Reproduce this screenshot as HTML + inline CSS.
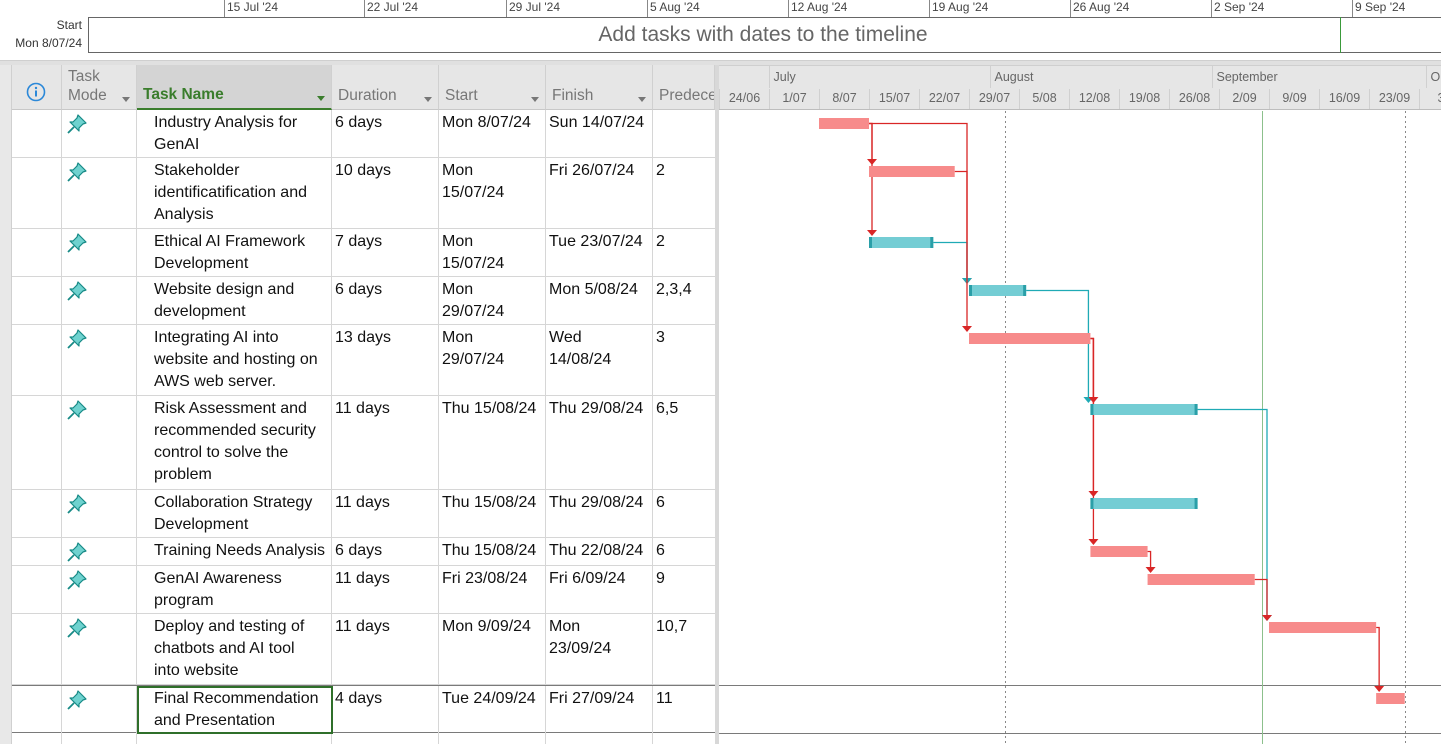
<!DOCTYPE html>
<html><head><meta charset="utf-8">
<style>
*{box-sizing:border-box;margin:0;padding:0}
body{width:1441px;height:744px;overflow:hidden;background:#fff;font-family:"Liberation Sans",sans-serif;position:relative}
.abs{position:absolute}
.tl{font-size:12px;color:#444;top:0}
.tick{position:absolute;top:0;width:1px;height:17px;background:#888}
.hdr{position:absolute;top:65px;height:45px;background:#E6E6E6;border-right:1px solid #D0D0D0;border-bottom:1px solid #C8C8C8;color:#777;font-size:14.5px}
.hdr span{position:absolute;left:6px;bottom:4px}
.dd{position:absolute;right:6px;bottom:7px;width:0;height:0;border-left:4px solid transparent;border-right:4px solid transparent;border-top:5px solid #777}
.row{position:absolute;left:12px;width:703px;border-bottom:1px solid #D6D6D6}
.c{position:absolute;top:0;bottom:0;border-right:1px solid #D6D6D6;font-size:16px;line-height:22px;color:#111;padding-top:2px;white-space:nowrap;overflow:hidden}
.c1{left:0;width:50px}.c2{left:50px;width:75px}.c3{left:125px;width:195px;padding-left:17px}
.c4{left:320px;width:107px;padding-left:3px}.c5{left:427px;width:107px;padding-left:3px}
.c6{left:534px;width:107px;padding-left:3px}.c7{left:641px;width:62px;padding-left:3px;border-right:none}
.pin{position:absolute;left:4px;top:3px}
</style></head><body>
<div class="abs" style="left:0;top:0;width:1441px;height:60px">
  <div class="tick" style="left:224px"></div><div class="abs tl" style="left:227px">15 Jul '24</div>
  <div class="tick" style="left:364px"></div><div class="abs tl" style="left:367px">22 Jul '24</div>
  <div class="tick" style="left:506px"></div><div class="abs tl" style="left:509px">29 Jul '24</div>
  <div class="tick" style="left:647px"></div><div class="abs tl" style="left:650px">5 Aug '24</div>
  <div class="tick" style="left:788px"></div><div class="abs tl" style="left:791px">12 Aug '24</div>
  <div class="tick" style="left:929px"></div><div class="abs tl" style="left:932px">19 Aug '24</div>
  <div class="tick" style="left:1070px"></div><div class="abs tl" style="left:1073px">26 Aug '24</div>
  <div class="tick" style="left:1211px"></div><div class="abs tl" style="left:1214px">2 Sep '24</div>
  <div class="tick" style="left:1352px"></div><div class="abs tl" style="left:1355px">9 Sep '24</div>
  <div class="abs" style="right:1359px;top:16px;font-size:12px;color:#333;text-align:right;line-height:18px">Start<br>Mon 8/07/24</div>
  <div class="abs" style="left:88px;top:17px;width:1360px;height:36px;border:1px solid #666;font-size:21px;color:#666;text-align:center;line-height:34px;padding-right:10px">Add tasks with dates to the timeline</div>
  <div class="abs" style="left:1340px;top:17px;width:1px;height:36px;background:#3A9A3A"></div>
</div>
<div class="abs" style="left:0;top:60px;width:1441px;height:5px;background:#E0E0E0;border-top:1px solid #CFCFCF"></div>

<div class="abs" style="left:0;top:65px;width:12px;height:679px;background:#E8E8E8;border-right:1px solid #D0D0D0"></div>
<div class="hdr" style="left:12px;width:50px">
  <svg class="abs" style="left:14px;top:17px" width="20" height="20"><circle cx="10" cy="10" r="8.5" fill="none" stroke="#2B88D8" stroke-width="1.6"/><rect x="9" y="8.5" width="2" height="6" fill="#2B88D8"/><circle cx="10" cy="6" r="1.2" fill="#2B88D8"/></svg>
</div>
<div class="hdr" style="left:62px;width:75px"><span style="line-height:19px;font-size:15.5px">Task<br>Mode</span><div class="dd"></div></div>
<div class="hdr" style="left:137px;width:195px;background:#D4D4D4;border-bottom:2px solid #3A7D2C;color:#3A7D2C;font-weight:bold;font-size:15.5px"><span>Task Name</span><div class="dd" style="border-top-color:#3A7D2C"></div></div>
<div class="hdr" style="left:332px;width:107px;font-size:15.5px"><span>Duration</span><div class="dd"></div></div>
<div class="hdr" style="left:439px;width:107px;font-size:15.5px"><span>Start</span><div class="dd"></div></div>
<div class="hdr" style="left:546px;width:107px;font-size:15.5px"><span>Finish</span><div class="dd"></div></div>
<div class="hdr" style="left:653px;width:62px;overflow:hidden;font-size:15.5px"><span style="white-space:nowrap">Predecessors</span></div>
<div class="abs" style="left:715px;top:65px;width:4px;height:679px;background:#D8D8D8"></div>

<div id="rows"></div>
<div class="abs" style="left:12px;top:732px;width:703px;height:12px">
  <div class="c c1"></div><div class="c c2"></div><div class="c c3"></div><div class="c c4"></div><div class="c c5"></div><div class="c c6"></div>
</div>

<svg id="gantt" class="abs" style="left:0;top:0" width="1441" height="744"></svg>

<script>
const taskNames=["Industry Analysis for<br>GenAI","Stakeholder<br>identificatification and<br>Analysis","Ethical AI Framework<br>Development","Website design and<br>development","Integrating AI into<br>website and hosting on<br>AWS web server.","Risk Assessment and<br>recommended security<br>control to solve the<br>problem","Collaboration Strategy<br>Development","Training Needs Analysis","GenAI Awareness<br>program","Deploy and testing of<br>chatbots and AI tool<br>into website","Final Recommendation<br>and Presentation"];
const durations=["6 days","10 days","7 days","6 days","13 days","11 days","11 days","6 days","11 days","11 days","4 days"];
const startText=["Mon 8/07/24","Mon<br>15/07/24","Mon<br>15/07/24","Mon<br>29/07/24","Mon<br>29/07/24","Thu 15/08/24","Thu 15/08/24","Thu 15/08/24","Fri 23/08/24","Mon 9/09/24","Tue 24/09/24"];
const finishText=["Sun 14/07/24","Fri 26/07/24","Tue 23/07/24","Mon 5/08/24","Wed<br>14/08/24","Thu 29/08/24","Thu 29/08/24","Thu 22/08/24","Fri 6/09/24","Mon<br>23/09/24","Fri 27/09/24"];
const preds=["","2","2","2,3,4","3","6,5","6","6","9","10,7","11"];
const rowLines=[2,3,2,2,3,4,2,1,2,3,2];
// gantt data: day offsets from 1 Jul 2024
const barStart=[7,14,14,28,28,45,45,45,53,70,85];
const barEnd=[14,26,23,36,45,60,60,53,68,85,89];
const critical=[1,1,0,0,1,0,0,1,1,1,1];
const linkFrom=[1,1,1,3,2,4,5,5,5,6,9,8,10];
const linkTo=[2,3,4,4,5,6,6,7,8,10,10,9,11];
const linkCrit=[1,1,1,0,1,0,1,1,1,0,1,1,1];
const weekLabels=["24/06","1/07","8/07","15/07","22/07","29/07","5/08","12/08","19/08","26/08","2/09","9/09","16/09","23/09","30"];
const weekDays=[-7,0,7,14,21,28,35,42,49,56,63,70,77,84,91];
const monthLabels=["July","August","September","O"];
const monthDays=[0,31,62,92];
const dottedDays=[33,89];
const todayDay=69;

const X0=769, DAY=50/7;
function xs(d){return X0+d*DAY;}
const HEIGHTS={1:28,2:48,3:71,4:94};
const rowTops=[];let yy=110;
for(let i=0;i<taskNames.length;i++){rowTops.push(yy);yy+=HEIGHTS[rowLines[i]];}
rowTops.push(yy);

const pinSvg='<svg class="pin" width="22" height="22" viewBox="0 0 22 22"><path d="M12 2 L20 10 L17 11 L13 15 L13 18 L4 9 L7 9 L11 5 Z" fill="#6FD2CF" stroke="#178A86" stroke-width="1.2" stroke-linejoin="round"/><path d="M8 14 L2 20" stroke="#178A86" stroke-width="1.8"/></svg>';
const rowsEl=document.getElementById('rows');
for(let i=0;i<taskNames.length;i++){
  const r=document.createElement('div');
  r.className='row';
  
  
  r.style.top=rowTops[i]+'px';r.style.height=(rowTops[i+1]-rowTops[i])+'px';
  if(i===taskNames.length-1){r.style.borderTop='1px solid #7A7A7A';r.style.borderBottom='1px solid #7A7A7A';}
  r.innerHTML='<div class="c c1"></div><div class="c c2">'+pinSvg+'</div><div class="c c3">'+taskNames[i]+'</div><div class="c c4">'+durations[i]+'</div><div class="c c5">'+startText[i]+'</div><div class="c c6">'+finishText[i]+'</div><div class="c c7">'+preds[i]+'</div>';
  rowsEl.appendChild(r);
  if(i===taskNames.length-1){
    const s=document.createElement('div');
    s.className='abs';
    
    
    s.style.cssText='left:137px;top:'+(rowTops[i]+1)+'px;width:196px;height:'+(rowTops[i+1]-rowTops[i])+'px;border:2px solid #2F6F2A';
    document.body.appendChild(s);
  }
}

const NS='http://www.w3.org/2000/svg';
const g=document.getElementById('gantt');
function el(t,a,txt){const e=document.createElementNS(NS,t);for(const k in a)e.setAttribute(k,a[k]);if(txt!==undefined)e.textContent=txt;g.appendChild(e);return e;}
let e=el('rect',{x:719,y:65,width:722,height:45,fill:'#E6E6E6'});


el('line',{x1:719,y1:109.5,x2:1441,y2:109.5,stroke:'#BDBDBD'});
el('line',{x1:719,y1:65.5,x2:1441,y2:65.5,stroke:'#CFCFCF'});
for(let i=0;i<monthLabels.length;i++){
  const x=Math.round(xs(monthDays[i]))+0.5;
  el('line',{x1:x,y1:66,x2:x,y2:88,stroke:'#D0D0D0'});
  e=el('text',{x:x+4,y:81,'font-size':12.5,fill:'#666','font-family':'Liberation Sans, sans-serif'},monthLabels[i]);
  
  
}
for(let i=0;i<weekLabels.length;i++){
  const x=Math.round(xs(weekDays[i]))+0.5;
  el('line',{x1:x,y1:89,x2:x,y2:109,stroke:'#D0D0D0'});
  e=el('text',{x:x+25,y:102,'font-size':12.5,fill:'#666','text-anchor':'middle','font-family':'Liberation Sans, sans-serif'},weekLabels[i]);
  
  
}
el('line',{x1:719,y1:rowTops[10]+0.5,x2:1441,y2:rowTops[10]+0.5,stroke:'#7A7A7A'});
el('line',{x1:719,y1:rowTops[11]+0.5,x2:1441,y2:rowTops[11]+0.5,stroke:'#7A7A7A'});
for(const d of dottedDays){
  const x=Math.round(xs(d))+0.5;
  e=el('line',{x1:x,y1:111,x2:x,y2:744,stroke:'#888','stroke-dasharray':'2,3'});
  
  
}
e=el('line',{x1:Math.round(xs(todayDay))+0.5,y1:111,x2:Math.round(xs(todayDay))+0.5,y2:744,stroke:'#8CC08C'});



const BAR_OFF=8, BAR_H=11;
for(let k=0;k<linkFrom.length;k++){
  const p=linkFrom[k]-1, s=linkTo[k]-1;
  const pe=xs(barEnd[p]), ss=xs(barStart[s]);
  const X=(ss>pe+5)?ss-2:pe+3;
  const y1=rowTops[p]+BAR_OFF+BAR_H/2, y2=rowTops[s]+BAR_OFF-1;
  const col=linkCrit[k]?'#D92626':'#1FAAB5';
  e=el('path',{d:'M'+pe+' '+y1+' H'+X+' V'+(y2-4),fill:'none',stroke:col,'stroke-width':1.3});
  
  
  el('path',{d:'M'+(X-5)+' '+(y2-6)+' L'+(X+5)+' '+(y2-6)+' L'+X+' '+y2+' Z',fill:col});
}
for(let i=0;i<barStart.length;i++){
  const x1=xs(barStart[i]), x2=xs(barEnd[i]), y=rowTops[i]+BAR_OFF;
  e=el('rect',{x:x1,y:y,width:x2-x1,height:BAR_H,fill:critical[i]?'#F78B8B':'#74CDD4'});
  
  
  if(!critical[i]){
    el('rect',{x:x1,y:y,width:3,height:BAR_H,fill:'#2A9FA8'});
    el('rect',{x:x2-3,y:y,width:3,height:BAR_H,fill:'#2A9FA8'});
  }
}
</script>
</body></html>
